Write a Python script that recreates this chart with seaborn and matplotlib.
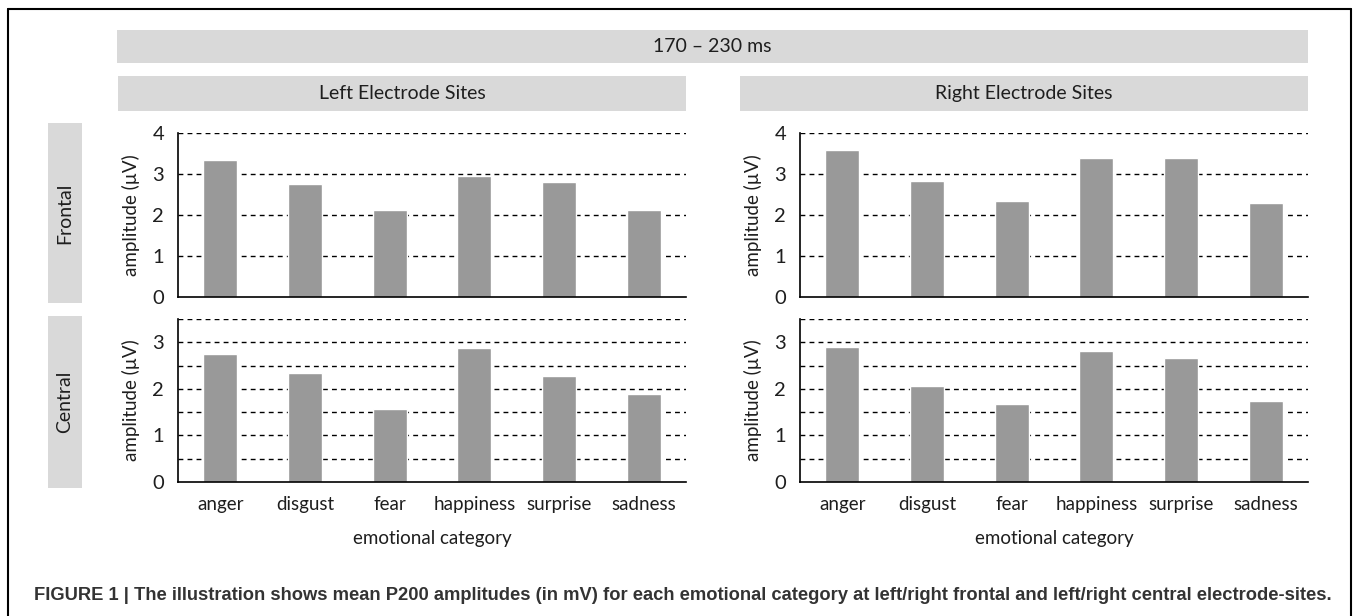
import numpy as np
import pandas as pd
import matplotlib
matplotlib.use("Agg")
import matplotlib.pyplot as plt
from matplotlib.patches import Rectangle
from matplotlib.lines import Line2D
import seaborn as sns

# data (mean P200 amplitude, µV)
emotions = ["anger", "disgust", "fear", "happiness", "surprise", "sadness"]
left_frontal = [3.35, 2.76, 2.11, 2.96, 2.80, 2.11]
right_frontal = [3.59, 2.82, 2.34, 3.38, 3.38, 2.30]
left_central = [2.74, 2.33, 1.56, 2.87, 2.28, 1.90]
right_central = [2.89, 2.06, 1.67, 2.81, 2.66, 1.73]

rows = []
for site, region, vals in [("left", "frontal", left_frontal), ("right", "frontal", right_frontal),
                           ("left", "central", left_central), ("right", "central", right_central)]:
    for e, v in zip(emotions, vals):
        rows.append({"site": site, "region": region, "emotion": e, "amplitude": v})
veri = pd.DataFrame(rows)

sns.set_style("white")
plt.rcParams["font.family"] = ["Lato", "DejaVu Sans"]

W, H = 1355, 616
fig = plt.figure(figsize=(W / 100, H / 100), dpi=100)
txt = "#1e1e1e"


def rect(x0, y0, x1, y1):
    return [x0 / W, 1 - y1 / H, (x1 - x0) / W, (y1 - y0) / H]


def box(x0, y0, x1, y1, label, rot=0):
    fig.add_artist(Rectangle((x0 / W, 1 - y1 / H), (x1 - x0) / W, (y1 - y0) / H,
                             transform=fig.transFigure, facecolor="#d9d9d9", edgecolor="none"))
    fig.text((x0 + x1) / 2 / W, 1 - (y0 + y1) / 2 / H, label, ha="center", va="center",
             rotation=rot, fontsize=14, color=txt)


# banners
box(117, 30, 1308, 63, "170 – 230 ms")
box(118, 76, 686, 111, "Left Electrode Sites")
box(740, 76, 1308, 111, "Right Electrode Sites")
box(48, 123, 82, 303, "Frontal", rot=90)
box(48, 316, 82, 488, "Central", rot=90)

panels = [
    ("left", "frontal", rect(178, 133, 686, 297), 4.0, [0, 1, 2, 3, 4], [1, 2, 3, 4]),
    ("right", "frontal", rect(800, 133, 1308, 297), 4.0, [0, 1, 2, 3, 4], [1, 2, 3, 4]),
    ("left", "central", rect(178, 319, 686, 482), 3.5, [0, 1, 2, 3], [0.5, 1, 1.5, 2, 2.5, 3, 3.5]),
    ("right", "central", rect(800, 319, 1308, 482), 3.5, [0, 1, 2, 3], [0.5, 1, 1.5, 2, 2.5, 3, 3.5]),
]

for site, region, pos, top, ticks, grid in panels:
    ax = fig.add_axes(pos)
    sub = veri[(veri["site"] == site) & (veri["region"] == region)]
    for g in grid:
        ax.axhline(g, color="black", lw=1, ls=(0, (3.5, 3)), zorder=0)
    sns.barplot(data=sub, x="emotion", y="amplitude", order=emotions, color="#999999",
                width=0.4, saturation=1, ax=ax, zorder=2)
    ax.set_ylim(0, top)
    ax.set_xlim(-0.5, 5.5)
    ax.set_yticks(ticks)
    ax.set_yticklabels([str(t) for t in ticks])
    ax.tick_params(axis="y", length=0, pad=10, labelsize=14.5, labelcolor=txt)
    ax.tick_params(axis="x", length=0, pad=10, labelsize=13.5, labelcolor=txt)
    ax.set_ylabel("amplitude (µV)", fontsize=13.5, color=txt, labelpad=9)
    for s in ["top", "right"]:
        ax.spines[s].set_visible(False)
    for s in ["left", "bottom"]:
        ax.spines[s].set_color("black")
        ax.spines[s].set_linewidth(1.2)
    ax.set_facecolor("none")
    if region == "frontal":
        ax.set_xticklabels([])
        ax.set_xlabel("")
    else:
        ax.set_xlabel("emotional category", fontsize=13.5, color=txt, labelpad=12)

# frame around the figure
fx0, fy0, fx1 = 8 / W, 1 - 9 / H, 1351 / W
for xs, ys in [([fx0, fx1], [fy0, fy0]), ([fx0, fx0], [fy0, 0]), ([fx1, fx1], [fy0, 0])]:
    fig.add_artist(Line2D(xs, ys, transform=fig.transFigure, color="black", lw=1.5))

fig.text(683 / W, 1 - 596 / H,
         "FIGURE 1 | The illustration shows mean P200 amplitudes (in mV) for each emotional category "
         "at left/right frontal and left/right central electrode-sites.",
         ha="center", va="center", fontsize=13.2, fontweight="bold", color="#333333",
         family=["Liberation Sans", "DejaVu Sans"])

fig.savefig("out.png", dpi=100)
